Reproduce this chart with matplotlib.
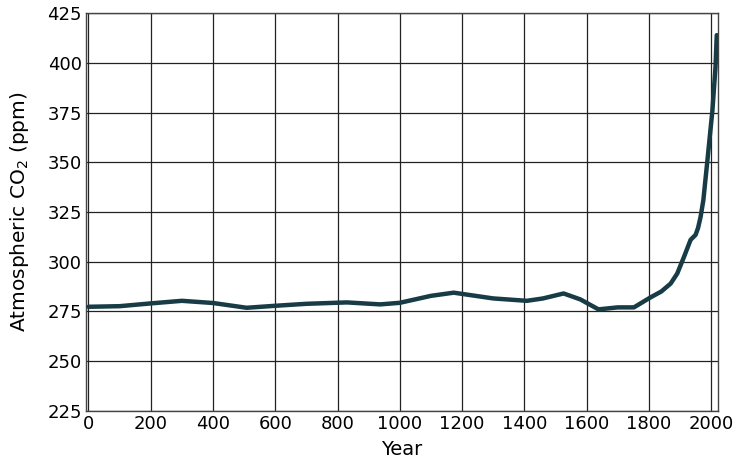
import matplotlib
matplotlib.use("Agg")
import matplotlib.pyplot as plt

plt.rcParams['font.family'] = ['DejaVu Sans']

# CO2 record
years = [0, 100, 200, 300, 400, 508, 600, 700, 830, 937, 1000, 1100, 1173,
         1300, 1408, 1460, 1526, 1580, 1638, 1700, 1752, 1805, 1840, 1870,
         1891, 1913, 1934, 1950, 1958, 1966, 1975, 1988, 2004, 2014, 2018]
co2 = [277.3, 277.6, 279.0, 280.3, 279.2, 276.8, 277.8, 278.8, 279.5, 278.5,
       279.3, 282.8, 284.4, 281.5, 280.3, 281.5, 284.0, 281.0, 276.0, 277.0,
       277.0, 282.0, 285.0, 289.0, 294.0, 302.5, 311.0, 313.5, 317.0, 322.5,
       331.0, 351.0, 376.0, 398.0, 414.0]

xticks = [0, 200, 400, 600, 800, 1000, 1200, 1400, 1600, 1800, 2000]
yticks = [225, 250, 275, 300, 325, 350, 375, 400, 425]

fig = plt.figure(figsize=(7.45, 4.65), dpi=100)
ax = fig.add_axes([86/745, 1 - 410.7/465, (718 - 86)/745, (410.7 - 13.3)/465])

ax.plot(years, co2, color='#173c46', lw=3.2, solid_capstyle='round', zorder=3)

ax.set_xlim(-8, 2022)
ax.set_ylim(225, 425)
ax.set_xticks(xticks)
ax.set_yticks(yticks)
ax.grid(True, color='#222222', lw=0.9)
ax.tick_params(length=0, labelsize=13, pad=3)
for s in ax.spines.values():
    s.set_color('#444444')
    s.set_linewidth(1.0)

ax.set_xlabel('Year', fontsize=14, labelpad=5)
ax.set_ylabel('Atmospheric CO$_2$ (ppm)', fontsize=14.5, labelpad=12)

fig.savefig('out.png', dpi=100)
